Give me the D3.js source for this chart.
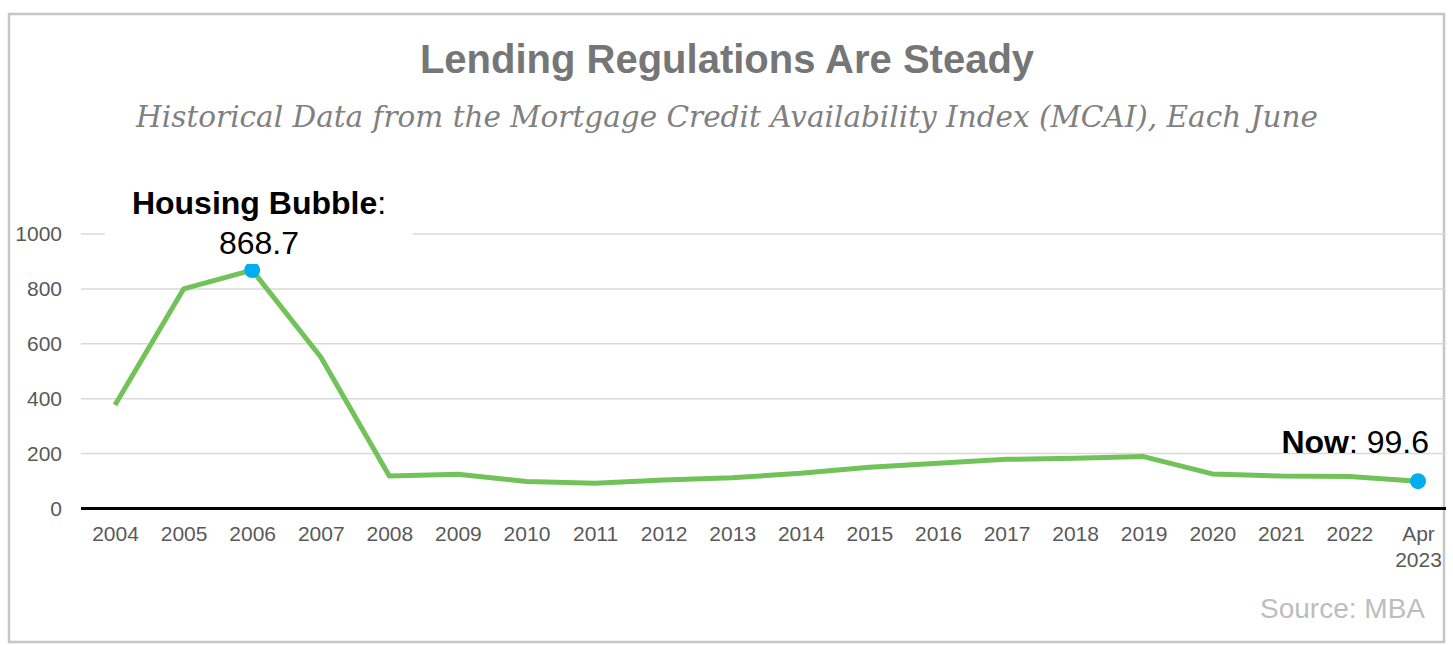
<!DOCTYPE html>
<html>
<head>
<meta charset="utf-8">
<title>Lending Regulations Are Steady</title>
<script src="https://d3js.org/d3.v7.min.js"></script>
<style>
  body { margin: 0; background: #fff; }
  svg { display: block; font-family: "Liberation Sans", Arial, sans-serif; }
  .grid line { stroke: #d9d9d9; stroke-width: 1.5; }
  .tick text { fill: #595959; font-size: 21px; font-family: "Liberation Sans", Arial, sans-serif; }
</style>
</head>
<body>
<script>
// chart data
var years = ["2004","2005","2006","2007","2008","2009","2010","2011","2012","2013",
             "2014","2015","2016","2017","2018","2019","2020","2021","2022","Apr 2023"];
var mcai = [377, 800, 868.7, 552, 118, 125, 98, 92, 104, 112,
            128, 150, 165, 179, 183, 189, 126, 118, 117, 99.6];
var yTicks = [0, 200, 400, 600, 800, 1000];

var W = 1453, H = 645;
var svg = d3.select("body").append("svg").attr("width", W).attr("height", H);

// frame
svg.append("rect")
  .attr("x", 9).attr("y", 14).attr("width", 1435).attr("height", 628)
  .attr("fill", "#fff").attr("stroke", "#c6c6c6").attr("stroke-width", 2.5);

var x = d3.scalePoint().domain(years).range([115, 1418]);
var y = d3.scaleLinear().domain([0, 1000]).range([508.5, 234]);

// gridlines
svg.append("g").attr("class", "grid")
  .selectAll("line").data(yTicks.slice(1)).enter().append("line")
  .attr("x1", 81).attr("x2", 1446)
  .attr("y1", function(d){ return y(d); }).attr("y2", function(d){ return y(d); });

// y axis labels
var yAxis = d3.axisLeft(y).tickValues(yTicks).tickFormat(d3.format("d")).tickSize(0).tickPadding(0);
svg.append("g").attr("transform", "translate(62,0)").call(yAxis)
  .call(function(g){ g.select(".domain").remove(); });

// x axis
var xAxis = d3.axisBottom(x).tickSize(0).tickPadding(0);
var gx = svg.append("g").attr("transform", "translate(0," + y(0) + ")").call(xAxis);
gx.select(".domain").remove();
gx.selectAll(".tick text").attr("dy", null).attr("y", 32)
  .each(function(d){
    var parts = d.split(" ");
    var t = d3.select(this).text(null);
    parts.forEach(function(p, i){
      t.append("tspan").attr("x", 0).attr("dy", i === 0 ? 0 : 26).text(p);
    });
  });
svg.append("line")
  .attr("x1", 81).attr("x2", 1446).attr("y1", y(0)).attr("y2", y(0))
  .attr("stroke", "#000").attr("stroke-width", 3);

// line
var line = d3.line().x(function(d, i){ return x(years[i]); }).y(function(d){ return y(d); });
svg.append("path").datum(mcai)
  .attr("d", line).attr("fill", "none")
  .attr("stroke", "#72c25a").attr("stroke-width", 5)
  .attr("stroke-linejoin", "round");

// highlighted points
var peak = 2, last = mcai.length - 1;
svg.selectAll("circle.hl").data([peak, last]).enter().append("circle")
  .attr("class", "hl")
  .attr("cx", function(i){ return x(years[i]); })
  .attr("cy", function(i){ return y(mcai[i]); })
  .attr("r", 8).attr("fill", "#00adef");

// annotations
svg.append("rect").attr("x", 105).attr("y", 186).attr("width", 308).attr("height", 78).attr("fill", "#fff");
var a1 = svg.append("text").attr("x", 259).attr("y", 214).attr("text-anchor", "middle")
  .attr("font-size", 32).attr("fill", "#000");
a1.append("tspan").attr("font-weight", "bold").text("Housing Bubble");
a1.append("tspan").text(":");
svg.append("text").attr("x", 259).attr("y", 254).attr("text-anchor", "middle")
  .attr("font-size", 32).attr("fill", "#000").text(mcai[peak]);

var a2 = svg.append("text").attr("x", 1429).attr("y", 453).attr("text-anchor", "end")
  .attr("font-size", 32).attr("fill", "#000");
a2.append("tspan").attr("font-weight", "bold").text("Now");
a2.append("tspan").text(": " + mcai[last]);

// titles
svg.append("text").attr("x", 727).attr("y", 73).attr("text-anchor", "middle")
  .attr("font-size", 40).attr("font-weight", "bold").attr("fill", "#767676")
  .text("Lending Regulations Are Steady");
svg.append("text").attr("x", 727).attr("y", 127).attr("text-anchor", "middle")
  .attr("font-family", "'DejaVu Serif', Georgia, serif").attr("font-style", "italic")
  .attr("font-size", 29.5).attr("fill", "#808080")
  .text("Historical Data from the Mortgage Credit Availability Index (MCAI), Each June");

svg.append("text").attr("x", 1425).attr("y", 618).attr("text-anchor", "end")
  .attr("font-size", 28).attr("fill", "#bdbdbd").text("Source: MBA");
</script>
</body>
</html>
